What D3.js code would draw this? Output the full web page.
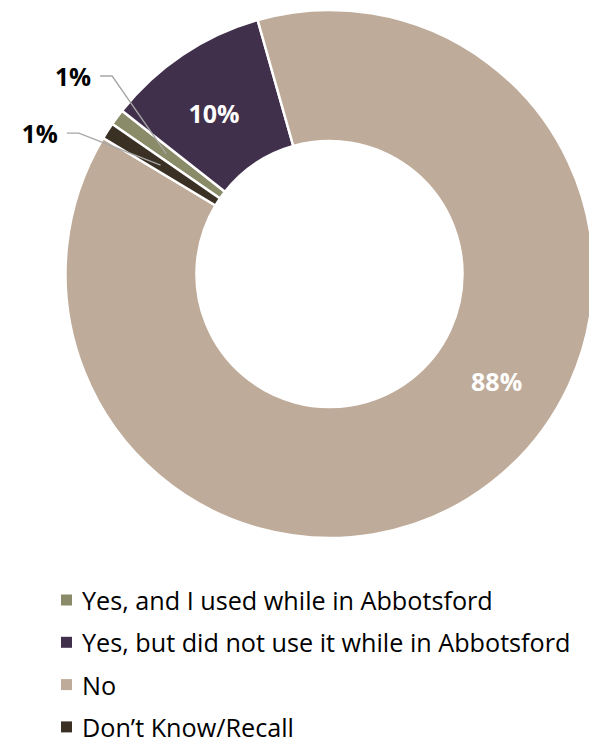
<!DOCTYPE html>
<html>
<head>
<meta charset="utf-8">
<script src="https://cdn.jsdelivr.net/npm/d3@7"></script>
<style>
  html, body { margin: 0; padding: 0; background: #fff; }
  svg { display: block; font-family: "Open Sans", Carlito, Calibri, sans-serif; }
</style>
</head>
<body>
<svg id="chart" width="589" height="745"></svg>
<script>
// Survey answers, in the order they are drawn clockwise
const categories = [
  "Yes, and I used while in Abbotsford",
  "Yes, but did not use it while in Abbotsford",
  "No",
  "Don\u2019t Know/Recall"
];
const values = [1, 10, 88, 1];
const valueLabels = ["1%", "10%", "88%", "1%"];
const colors = ["#8a8b68", "#41304b", "#bfab9a", "#3a3023"];

const data = categories.map((c, i) => ({ name: c, value: values[i], label: valueLabels[i], color: colors[i] }));

const svg = d3.select("#chart");
const cx = 329.5, cy = 274;
const outerR = 264, innerR = 133;
const deg = Math.PI / 180;
const start = -55.4 * deg;

const pie = d3.pie().sort(null).value(d => d.value)
  .startAngle(start).endAngle(start + 2 * Math.PI);
const arcs = pie(data);

const arc = d3.arc().innerRadius(innerR).outerRadius(outerR);
const midR = (innerR + outerR) / 2;

const g = svg.append("g").attr("transform", `translate(${cx},${cy})`);

g.selectAll("path.slice")
  .data(arcs)
  .join("path")
  .attr("class", "slice")
  .attr("d", arc)
  .attr("fill", d => d.data.color)
  .attr("stroke", "#fff")
  .attr("stroke-width", 2.5)
  .attr("stroke-linejoin", "round");

// polar helper: angle measured clockwise from 12 o'clock
const polar = (a, r) => [r * Math.sin(a), -r * Math.cos(a)];

// labels inside the large slices
const inside = [
  { i: 1, frac: 0.45 },
  { i: 2, frac: 0.437 }
];
inside.forEach(({ i, frac }) => {
  const a = arcs[i];
  const ang = a.startAngle + (a.endAngle - a.startAngle) * frac;
  const [x, y] = polar(ang, midR);
  g.append("text")
    .attr("x", x).attr("y", y)
    .attr("text-anchor", "middle")
    .attr("dominant-baseline", "central")
    .attr("fill", "#fff")
    .attr("font-weight", "bold")
    .attr("font-size", 25)
    .text(a.data.label);
});

// labels for the thin slices, pulled outside with leader lines
const outside = [
  { i: 0, ang: -49.2 * deg, r: 303, pointR: 203 },
  { i: 3, ang: -61.8 * deg, r: 298, pointR: 201 }
];
outside.forEach(({ i, ang, r, pointR }) => {
  const a = arcs[i];
  const mid = (a.startAngle + a.endAngle) / 2;
  const [px, py] = polar(mid, pointR);
  const [lx, ly] = polar(ang, r);
  g.append("polyline")
    .attr("points", [[lx, ly], [lx + 12, ly], [px, py]].map(p => p.join(",")).join(" "))
    .attr("fill", "none")
    .attr("stroke", "#a6a6a6")
    .attr("stroke-width", 1.3);
  g.append("text")
    .attr("x", lx - 9).attr("y", ly)
    .attr("text-anchor", "end")
    .attr("dominant-baseline", "central")
    .attr("fill", "#000")
    .attr("font-weight", "bold")
    .attr("font-size", 24.5)
    .text(a.data.label);
});

// legend
const legendX = 61, legendY0 = 600, legendStep = 42.3;
const legend = svg.append("g");
const rows = legend.selectAll("g")
  .data(data)
  .join("g")
  .attr("transform", (d, i) => `translate(${legendX},${legendY0 + i * legendStep})`);
rows.append("rect")
  .attr("x", 0).attr("y", -5.5)
  .attr("width", 11).attr("height", 11)
  .attr("fill", d => d.color);
rows.append("text")
  .attr("x", 21).attr("y", 0)
  .attr("dominant-baseline", "central")
  .attr("font-size", 25.2)
  .attr("fill", "#000")
  .text(d => d.name);
</script>
</body>
</html>
